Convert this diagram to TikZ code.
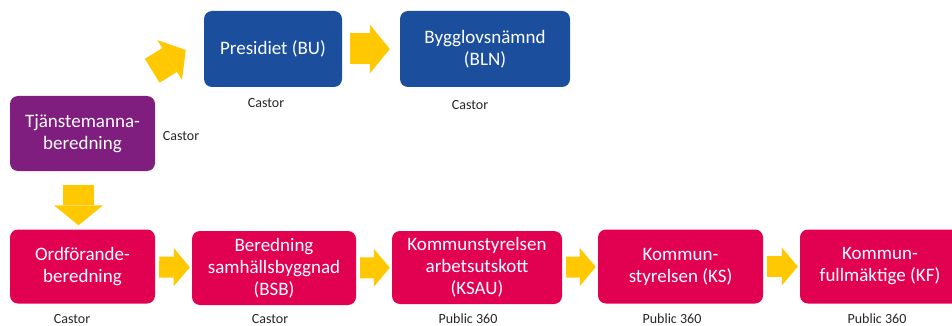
\documentclass[tikz,border=0pt]{standalone}
\usepackage{fontspec}
\setmainfont{Carlito}
\usepackage{tikz}
\usetikzlibrary{arrows.meta,calc}
\definecolor{bnblue}{RGB}{27,79,158}
\definecolor{bnpurple}{RGB}{128,30,128}
\definecolor{bnred}{RGB}{226,0,80}
\definecolor{bnyellow}{RGB}{255,200,0}
\tikzset{
  box/.style={shape=rectangle,rounded corners=8pt,text=white,inner sep=0pt,align=center,font=\fontsize{19}{22}\selectfont},
  bluebox/.style={box,fill=bnblue},
  purplebox/.style={box,fill=bnpurple},
  redbox/.style={box,fill=bnred},
  system/.style={text=black!85,inner sep=0pt,font=\fontsize{14}{16}\selectfont},
  bigarrow/.style={draw=bnyellow,line width=31pt,-{Triangle[length=20pt,width=49pt,line width=0pt]}},
  smallarrow/.style={draw=bnyellow,line width=21pt,-{Triangle[length=16pt,width=38pt,line width=0pt]},shorten <=4pt,shorten >=2pt}
}

\begin{document}
\begin{tikzpicture}[x=1pt,y=-1pt]

\useasboundingbox (0,0) rectangle (952,326);

\path (82.5,133.5) node [purplebox,minimum width=145pt,minimum height=75pt] (tjanste) {Tjänstemanna-\\beredning};

\path (273,49) node [bluebox,minimum width=138pt,minimum height=76pt] (presidiet) {Presidiet (BU)};

\path (485,49) node [bluebox,minimum width=170pt,minimum height=76pt] (bln) {Bygglovsnämnd\\(BLN)};

\path (82.5,266.5) node [redbox,minimum width=145pt,minimum height=74pt] (ordf) {Ordförande-\\beredning};

\path (274,268) node [redbox,minimum width=164pt,minimum height=74pt] (bsb) {Beredning\\samhällsbyggnad\\(BSB)};

\path (477,267.5) node [redbox,minimum width=170pt,minimum height=73pt] (ksau) {Kommunstyrelsen\\arbetsutskott\\(KSAU)};

\path (680.5,266.5) node [redbox,minimum width=165pt,minimum height=74pt] (ks) {Kommun-\\styrelsen (KS)};

\path (880,266.5) node [redbox,minimum width=160pt,minimum height=74pt] (kf) {Kommun-\\fullmäktige (KF)};

% systemen
\path (181,136) node [system] (castor1) {Castor};
\path (266,103) node [system] (castor2) {Castor};
\path (470,105) node [system] (castor3) {Castor};
\path (72,319) node [system] (castor4) {Castor};
\path (270,319.5) node [system] (castor5) {Castor};
\path (468,319) node [system] (p360a) {Public 360};
\path (672,319) node [system] (p360b) {Public 360};
\path (877,319) node [system] (p360c) {Public 360};

% pilar
\draw [bigarrow,line width=28pt,-{Triangle[length=19pt,width=47pt,line width=0pt]}] ($(tjanste.north east)+(-3,-25)$) -- ($(presidiet.west)+(-18,1)$);
\draw [bigarrow,shorten <=8pt,shorten >=10pt] (presidiet.east) -- (bln.west);
\draw [bigarrow,shorten <=14pt,shorten >=4pt] ($(tjanste.south)+(-4,0)$) -- ($(ordf.north)+(-4,0)$);
\draw [smallarrow] (ordf) -- (bsb);
\draw [smallarrow] (bsb) -- (ksau);
\draw [smallarrow] (ksau) -- (ks);
\draw [smallarrow] (ks) -- (kf);

\end{tikzpicture}
\end{document}
